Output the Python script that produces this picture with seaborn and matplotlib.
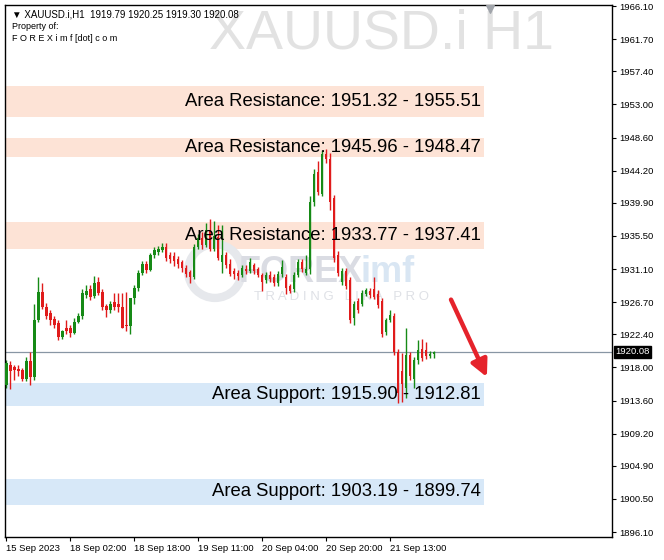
import numpy as np
import pandas as pd
import matplotlib
matplotlib.use("Agg")
import matplotlib.pyplot as plt
import matplotlib.transforms as mtransforms
import seaborn as sns

# H1 candles, XAUUSD.i
opens = [1915.6, 1918.3, 1918.0, 1917.8, 1917.6, 1916.5, 1918.8, 1916.7, 1924.3, 1928.1,
         1926.1, 1925.2, 1924.4, 1923.9, 1922.0, 1923.3, 1923.2, 1922.6, 1924.1, 1924.8,
         1927.6, 1928.4, 1927.5, 1929.4, 1928.1, 1926.2, 1925.6, 1926.7, 1926.5, 1926.0,
         1923.6, 1923.5, 1927.2, 1928.6, 1930.6, 1931.8, 1931.0, 1932.9, 1933.3, 1933.6,
         1934.0, 1932.9, 1932.8, 1932.4, 1932.0, 1931.3, 1930.7, 1930.0, 1934.0, 1935.2,
         1934.3, 1936.3, 1933.8, 1935.3, 1932.0, 1933.0, 1931.8, 1930.9, 1930.6, 1930.3,
         1931.1, 1930.9, 1931.6, 1931.1, 1930.3, 1929.6, 1930.3, 1930.0, 1929.2, 1930.4,
         1930.0, 1928.8, 1928.4, 1930.3, 1932.0, 1930.6, 1931.1, 1940.0, 1944.0, 1941.1,
         1946.4, 1945.8, 1940.6, 1932.9, 1929.4, 1930.9, 1929.6, 1924.6, 1926.9, 1926.5,
         1927.8, 1928.2, 1928.4, 1927.8, 1926.9, 1922.7, 1924.3, 1924.9, 1920.1, 1917.5,
         1915.3, 1919.7, 1916.4, 1919.0, 1920.4, 1920.3, 1919.5, 1919.79]
highs = [1919.0, 1918.8, 1918.3, 1918.3, 1917.9, 1919.4, 1920.1, 1926.5, 1930.0, 1929.2,
         1926.6, 1925.6, 1924.8, 1924.3, 1923.0, 1924.3, 1923.6, 1924.6, 1925.3, 1928.4,
         1929.0, 1929.0, 1930.2, 1930.0, 1928.5, 1926.5, 1926.8, 1927.9, 1927.9, 1927.9,
         1928.0, 1927.3, 1929.0, 1931.0, 1932.2, 1932.1, 1933.2, 1934.0, 1934.2, 1934.5,
         1934.6, 1933.3, 1933.4, 1932.8, 1932.3, 1931.7, 1931.0, 1934.4, 1935.8, 1936.0,
         1937.2, 1937.8, 1937.5, 1937.0, 1936.9, 1933.3, 1932.4, 1931.2, 1931.0, 1931.6,
         1931.6, 1932.6, 1931.9, 1931.4, 1930.6, 1930.7, 1930.8, 1930.4, 1930.8, 1932.3,
         1930.4, 1929.1, 1930.7, 1932.4, 1932.4, 1932.9, 1940.8, 1944.4, 1945.5, 1947.0,
         1947.1, 1946.6, 1941.0, 1933.5, 1931.3, 1931.2, 1930.0, 1926.9, 1927.2, 1928.3,
         1928.6, 1928.6, 1930.0, 1928.3, 1927.3, 1924.6, 1925.6, 1925.2, 1920.5, 1919.9,
         1923.2, 1920.0, 1919.4, 1921.6, 1921.8, 1921.4, 1920.2, 1920.25]
lows = [1915.2, 1915.1, 1916.3, 1916.9, 1916.2, 1916.2, 1915.6, 1916.3, 1924.0, 1925.8,
        1924.5, 1923.6, 1923.3, 1921.6, 1921.8, 1922.5, 1922.0, 1922.4, 1923.9, 1924.5,
        1927.3, 1927.0, 1927.2, 1927.6, 1925.7, 1924.7, 1925.3, 1925.6, 1925.4, 1923.2,
        1922.9, 1922.5, 1926.5, 1928.2, 1930.3, 1930.6, 1930.8, 1932.6, 1932.9, 1933.3,
        1932.2, 1931.9, 1931.5, 1931.2, 1930.7, 1930.0, 1929.3, 1929.8, 1933.7, 1933.8,
        1934.0, 1933.5, 1933.5, 1932.3, 1930.6, 1931.2, 1930.2, 1929.8, 1929.6, 1930.0,
        1930.4, 1930.6, 1930.5, 1930.0, 1928.2, 1929.3, 1929.4, 1928.9, 1928.9, 1930.1,
        1927.8, 1927.9, 1928.1, 1930.0, 1930.7, 1930.3, 1930.5, 1939.5, 1941.0, 1940.8,
        1945.2, 1938.9, 1932.0, 1930.2, 1929.0, 1928.5, 1923.9, 1923.6, 1925.3, 1926.2,
        1927.5, 1927.3, 1927.1, 1925.9, 1922.1, 1922.3, 1924.0, 1919.7, 1913.3, 1913.4,
        1913.9, 1916.3, 1915.2, 1918.5, 1918.9, 1919.1, 1919.2, 1919.30]
closes = [1918.6, 1917.5, 1917.6, 1917.5, 1916.5, 1918.8, 1916.7, 1924.3, 1928.1, 1926.1,
          1924.9, 1924.3, 1923.6, 1922.0, 1922.8, 1922.9, 1922.6, 1924.1, 1924.8, 1927.9,
          1928.2, 1927.4, 1929.2, 1927.9, 1926.1, 1925.7, 1926.4, 1926.0, 1926.1, 1923.3,
          1923.5, 1927.2, 1928.6, 1930.6, 1931.8, 1931.0, 1932.9, 1933.6, 1933.7, 1934.0,
          1932.5, 1932.4, 1932.2, 1931.8, 1931.2, 1930.5, 1930.0, 1934.0, 1935.2, 1934.3,
          1936.3, 1933.8, 1935.5, 1932.5, 1933.0, 1931.6, 1930.5, 1930.5, 1930.2, 1931.3,
          1930.8, 1932.0, 1930.9, 1930.3, 1929.4, 1930.3, 1929.8, 1929.2, 1930.4, 1931.4,
          1928.6, 1928.2, 1930.3, 1932.0, 1931.1, 1931.1, 1940.0, 1943.8, 1941.4, 1946.4,
          1945.8, 1940.0, 1932.5, 1930.6, 1930.9, 1928.9, 1924.3, 1926.5, 1925.6, 1927.9,
          1928.3, 1927.6, 1927.4, 1926.3, 1922.5, 1924.3, 1925.0, 1920.1, 1914.6, 1915.8,
          1919.7, 1916.8, 1919.0, 1920.3, 1919.2, 1919.5, 1919.8, 1920.08]

# zones
resist_lo = [1951.32, 1945.96, 1933.77]
resist_hi = [1955.51, 1948.47, 1937.41]
support_hi = [1915.90, 1903.19]
support_lo = [1912.81, 1899.74]

last_price = 1920.08
ytick_vals = [1966.10, 1961.70, 1957.40, 1953.00, 1948.60, 1944.20, 1939.90, 1935.50,
              1931.10, 1926.70, 1922.40, 1918.00, 1913.60, 1909.20, 1904.90, 1900.50, 1896.10]
xtick_pos = [0, 16, 32, 48, 64, 80, 96]
xtick_labels = ["15 Sep 2023", "18 Sep 02:00", "18 Sep 18:00", "19 Sep 11:00",
                "20 Sep 04:00", "20 Sep 20:00", "21 Sep 13:00"]

df = pd.DataFrame({"open": opens, "high": highs, "low": lows, "close": closes})
df["idx"] = np.arange(len(df))
df["up"] = df["close"] >= df["open"]

sns.set_theme(style="white")
plt.rcParams["font.family"] = ["Liberation Sans", "DejaVu Sans"]

fig = plt.figure(figsize=(6.64, 5.6), dpi=100)
ax = fig.add_axes([0.0075, 0.041, 0.914, 0.95])

green = "#168a16"
red = "#e01b1b"
cols = np.where(df["up"], green, red)

# zones behind everything
zone_right = 119.5
for lo, hi in zip(resist_lo, resist_hi):
    ax.fill_between([-0.5, zone_right], lo, hi, color="#fde3d6", lw=0, zorder=0.5)
for lo, hi in zip(support_lo, support_hi):
    ax.fill_between([-0.5, zone_right], lo, hi, color="#d7e8f8", lw=0, zorder=0.5)

# watermarks
ax.text(0.905, 0.945, "XAUUSD.i H1", transform=ax.transAxes, ha="right", va="center",
        fontsize=40, color="#e2e2e2", zorder=0.6)
ax.scatter([0.346], [0.5], s=1500, marker="o", facecolors="none", edgecolors="#e6e8ec",
           linewidths=6, transform=ax.transAxes, zorder=0.6)
ax.text(0.385, 0.498, "FOREX", transform=ax.transAxes, ha="left", va="center",
        fontsize=26, fontweight="bold", color="#dadce3", zorder=0.6)
ax.text(0.585, 0.498, "imf", transform=ax.transAxes, ha="left", va="center",
        fontsize=26, fontweight="bold", color="#d9e6f3", zorder=0.6)
ax.text(0.41, 0.452, "T R A D I N G   L I K A   P R O", transform=ax.transAxes,
        ha="left", va="center", fontsize=9.5, color="#dfe1e6", zorder=0.6)

# last price line
ax.axhline(last_price, color="#8896a4", lw=0.9, zorder=1)

# candles
ax.vlines(df["idx"], df["low"], df["high"], colors=cols, lw=1.0, zorder=2)
body_lo = np.minimum(df["open"], df["close"])
body_h = np.maximum(np.abs(df["close"] - df["open"]), 0.12)
ax.bar(df["idx"], body_h, bottom=body_lo, width=0.7, color=cols, lw=0, zorder=3)

# zone labels
for lo, hi in zip(resist_lo, resist_hi):
    ax.text(zone_right - 0.8, (lo + hi) / 2, f"Area Resistance: {lo:.2f} - {hi:.2f}",
            ha="right", va="center", fontsize=13.3, color="black", zorder=5)
for hi, lo in zip(support_hi, support_lo):
    ax.text(zone_right - 0.8, (lo + hi) / 2, f"Area Support: {hi:.2f} - {lo:.2f}",
            ha="right", va="center", fontsize=13.3, color="black", zorder=5)

# down arrow
ax.annotate("", xy=(0.796, 0.296), xytext=(0.733, 0.451), xycoords="axes fraction",
            arrowprops=dict(arrowstyle="-|>", color="#e5232b", lw=3.2, mutation_scale=25),
            zorder=6)

# header text
ax.text(0.012, 0.992, "\u25bc XAUUSD.i,H1  1919.79 1920.25 1919.30 1920.08",
        transform=ax.transAxes, ha="left", va="top", fontsize=7, color="black", zorder=6)
ax.text(0.012, 0.968, "Property of:", transform=ax.transAxes, ha="left", va="top",
        fontsize=6.5, color="black", zorder=6)
ax.text(0.012, 0.946, "F O R E X i m f [dot] c o m", transform=ax.transAxes, ha="left",
        va="top", fontsize=6.5, color="black", zorder=6)

# chart shift marker
ax.scatter([0.799], [0.993], marker="v", s=30, color="#a0a4aa", transform=ax.transAxes,
           clip_on=False, zorder=7)

ax.set_xlim(-0.3, 151.5)
ax.set_ylim(1895.43, 1966.23)

ax.yaxis.tick_right()
ax.set_yticks(ytick_vals)
ax.set_yticklabels([f"{v:.2f}" for v in ytick_vals])
ax.set_xticks(xtick_pos)
ax.set_xticklabels(xtick_labels, ha="left")
ax.tick_params(axis="both", which="both", direction="out", length=3, width=0.8,
               labelsize=6.8, colors="black", pad=2)
ax.tick_params(axis="y", right=True, left=False)
ax.tick_params(axis="x", bottom=True)
for s in ax.spines.values():
    s.set_color("black")
    s.set_linewidth(1.0)
ax.set_xlabel("")
ax.set_ylabel("")

# current price tag on the price axis
trans = mtransforms.blended_transform_factory(ax.transAxes, ax.transData)
ax.text(1.006, last_price, f"{last_price:.2f}", transform=trans, ha="left", va="center",
        fontsize=6.8, color="white", zorder=7, clip_on=False,
        bbox=dict(boxstyle="square,pad=0.15", fc="black", ec="black"))

fig.savefig("out.png", dpi=100)
